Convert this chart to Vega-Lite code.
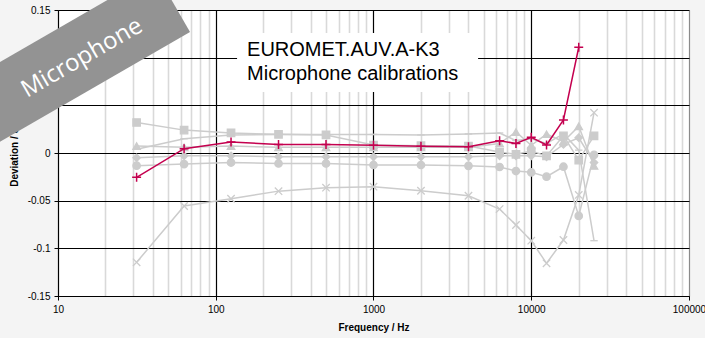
{
  "$schema": "https://vega.github.io/schema/vega-lite/v6.json",
  "width": 631,
  "height": 286,
  "autosize": "none",
  "padding": {"left": 58, "top": 10, "right": 16, "bottom": 42},
  "background": "#f4f4f4",
  "config": {
    "view": {"fill": "#ffffff", "stroke": null},
    "font": "Liberation Sans",
    "axis": {"labelFont": "Liberation Sans", "titleFont": "Liberation Sans", "labelFontSize": 10, "titleFontSize": 10, "labelColor": "#000000", "titleColor": "#000000", "domainColor": "#000000", "tickColor": "#000000", "tickSize": 4, "titleFontWeight": "bold"}
  },
  "datasets": {
    "series": [
      {"series": "Lab 1", "freq": 31.5, "dev": -0.0255},
      {"series": "Lab 1", "freq": 63, "dev": 0.0045},
      {"series": "Lab 1", "freq": 125, "dev": 0.0115},
      {"series": "Lab 1", "freq": 250, "dev": 0.009},
      {"series": "Lab 1", "freq": 500, "dev": 0.009},
      {"series": "Lab 1", "freq": 1000, "dev": 0.0081},
      {"series": "Lab 1", "freq": 2000, "dev": 0.007},
      {"series": "Lab 1", "freq": 4000, "dev": 0.0066},
      {"series": "Lab 1", "freq": 6300, "dev": 0.0129},
      {"series": "Lab 1", "freq": 8000, "dev": 0.010},
      {"series": "Lab 1", "freq": 10000, "dev": 0.0165},
      {"series": "Lab 1", "freq": 12500, "dev": 0.0084},
      {"series": "Lab 1", "freq": 16000, "dev": 0.0346},
      {"series": "Lab 1", "freq": 20000, "dev": 0.1109},

      {"series": "Lab 2", "freq": 31.5, "dev": 0.032},
      {"series": "Lab 2", "freq": 63, "dev": 0.024},
      {"series": "Lab 2", "freq": 125, "dev": 0.021},
      {"series": "Lab 2", "freq": 250, "dev": 0.0196},
      {"series": "Lab 2", "freq": 500, "dev": 0.0189},
      {"series": "Lab 2", "freq": 1000, "dev": 0.0084},
      {"series": "Lab 2", "freq": 2000, "dev": 0.0077},
      {"series": "Lab 2", "freq": 4000, "dev": 0.0073},
      {"series": "Lab 2", "freq": 6300, "dev": 0.001},
      {"series": "Lab 2", "freq": 8000, "dev": -0.0014},
      {"series": "Lab 2", "freq": 10000, "dev": 0.002},
      {"series": "Lab 2", "freq": 12500, "dev": -0.003},
      {"series": "Lab 2", "freq": 16000, "dev": 0.018},
      {"series": "Lab 2", "freq": 20000, "dev": -0.0075},
      {"series": "Lab 2", "freq": 25000, "dev": 0.018},

      {"series": "Lab 3", "freq": 31.5, "dev": 0.0073},
      {"series": "Lab 3", "freq": 63, "dev": 0.006},
      {"series": "Lab 3", "freq": 125, "dev": 0.0073},
      {"series": "Lab 3", "freq": 250, "dev": 0.006},
      {"series": "Lab 3", "freq": 500, "dev": 0.006},
      {"series": "Lab 3", "freq": 1000, "dev": 0.006},
      {"series": "Lab 3", "freq": 2000, "dev": 0.006},
      {"series": "Lab 3", "freq": 4000, "dev": 0.006},
      {"series": "Lab 3", "freq": 6300, "dev": 0.01},
      {"series": "Lab 3", "freq": 8000, "dev": 0.022},
      {"series": "Lab 3", "freq": 10000, "dev": 0.008},
      {"series": "Lab 3", "freq": 12500, "dev": 0.0197},
      {"series": "Lab 3", "freq": 16000, "dev": 0.012},
      {"series": "Lab 3", "freq": 20000, "dev": 0.028},
      {"series": "Lab 3", "freq": 25000, "dev": -0.0136},

      {"series": "Lab 4", "freq": 31.5, "dev": -0.005},
      {"series": "Lab 4", "freq": 63, "dev": -0.003},
      {"series": "Lab 4", "freq": 125, "dev": -0.003},
      {"series": "Lab 4", "freq": 250, "dev": -0.004},
      {"series": "Lab 4", "freq": 500, "dev": -0.004},
      {"series": "Lab 4", "freq": 1000, "dev": -0.004},
      {"series": "Lab 4", "freq": 2000, "dev": -0.004},
      {"series": "Lab 4", "freq": 4000, "dev": -0.004},
      {"series": "Lab 4", "freq": 6300, "dev": -0.003},
      {"series": "Lab 4", "freq": 8000, "dev": -0.003},
      {"series": "Lab 4", "freq": 10000, "dev": -0.003},
      {"series": "Lab 4", "freq": 12500, "dev": -0.004},
      {"series": "Lab 4", "freq": 16000, "dev": 0.009},
      {"series": "Lab 4", "freq": 20000, "dev": 0.016},
      {"series": "Lab 4", "freq": 25000, "dev": -0.01},

      {"series": "Lab 5", "freq": 31.5, "dev": -0.0133},
      {"series": "Lab 5", "freq": 63, "dev": -0.0116},
      {"series": "Lab 5", "freq": 125, "dev": -0.010},
      {"series": "Lab 5", "freq": 250, "dev": -0.011},
      {"series": "Lab 5", "freq": 500, "dev": -0.011},
      {"series": "Lab 5", "freq": 1000, "dev": -0.0126},
      {"series": "Lab 5", "freq": 2000, "dev": -0.0126},
      {"series": "Lab 5", "freq": 4000, "dev": -0.0135},
      {"series": "Lab 5", "freq": 6300, "dev": -0.0147},
      {"series": "Lab 5", "freq": 8000, "dev": -0.0189},
      {"series": "Lab 5", "freq": 10000, "dev": -0.0203},
      {"series": "Lab 5", "freq": 12500, "dev": -0.0248},
      {"series": "Lab 5", "freq": 16000, "dev": -0.0144},
      {"series": "Lab 5", "freq": 20000, "dev": -0.066},
      {"series": "Lab 5", "freq": 25000, "dev": -0.002},

      {"series": "Lab 6", "freq": 31.5, "dev": -0.1147},
      {"series": "Lab 6", "freq": 63, "dev": -0.0556},
      {"series": "Lab 6", "freq": 125, "dev": -0.048},
      {"series": "Lab 6", "freq": 250, "dev": -0.040},
      {"series": "Lab 6", "freq": 500, "dev": -0.0364},
      {"series": "Lab 6", "freq": 1000, "dev": -0.0353},
      {"series": "Lab 6", "freq": 2000, "dev": -0.0396},
      {"series": "Lab 6", "freq": 4000, "dev": -0.0448},
      {"series": "Lab 6", "freq": 6300, "dev": -0.0588},
      {"series": "Lab 6", "freq": 8000, "dev": -0.0755},
      {"series": "Lab 6", "freq": 10000, "dev": -0.092},
      {"series": "Lab 6", "freq": 12500, "dev": -0.1157},
      {"series": "Lab 6", "freq": 16000, "dev": -0.0913},
      {"series": "Lab 6", "freq": 20000, "dev": -0.044},
      {"series": "Lab 6", "freq": 25000, "dev": 0.0423},

      {"series": "Lab 7", "freq": 31.5, "dev": 0.004},
      {"series": "Lab 7", "freq": 63, "dev": 0.015},
      {"series": "Lab 7", "freq": 125, "dev": 0.019},
      {"series": "Lab 7", "freq": 250, "dev": 0.0195},
      {"series": "Lab 7", "freq": 500, "dev": 0.0195},
      {"series": "Lab 7", "freq": 1000, "dev": 0.0195},
      {"series": "Lab 7", "freq": 2000, "dev": 0.019},
      {"series": "Lab 7", "freq": 4000, "dev": 0.02},
      {"series": "Lab 7", "freq": 6300, "dev": 0.021},
      {"series": "Lab 7", "freq": 8000, "dev": 0.013},
      {"series": "Lab 7", "freq": 10000, "dev": 0.015},
      {"series": "Lab 7", "freq": 12500, "dev": 0.01},
      {"series": "Lab 7", "freq": 16000, "dev": 0.02},
      {"series": "Lab 7", "freq": 20000, "dev": 0.003},
      {"series": "Lab 7", "freq": 25000, "dev": -0.092}
    ],
    "box": [{"freq": 136.5, "dev": 0.1259, "freq2": 4603, "dev2": 0.064}],
    "titles": [
      {"label": "EUROMET.AUV.A-K3", "freq": 158, "dev": 0.1017},
      {"label": "Microphone calibrations", "freq": 158, "dev": 0.0766}
    ],
    "banner": [{"freq": 1.785, "dev": 0.0172, "freq2": 53.4, "dev2": 0.1583}],
    "bannerText": [{"label": "Microphone", "freq": 14.2, "dev": 0.0996}]
  },
  "layer": [
    {
      "data": {"name": "box"},
      "mark": {"type": "rect", "fill": "#ffffff", "stroke": null},
      "encoding": {
        "x": {"field": "freq", "type": "quantitative",
          "scale": {"type": "log", "domain": [10, 100000], "nice": false},
          "axis": {
            "title": "Frequency / Hz",
            "values": [10,20,30,40,50,60,70,80,90,100,200,300,400,500,600,700,800,900,1000,2000,3000,4000,5000,6000,7000,8000,9000,10000,20000,30000,40000,50000,60000,70000,80000,90000,100000],
            "format": "d",
            "labelExpr": "(datum.value===10||datum.value===100||datum.value===1000||datum.value===10000||datum.value===100000)?datum.label:''",
            "labelOverlap": false,
            "labelFlush": false,
            "labelPadding": 4,
            "titlePadding": 8,
            "grid": true,
            "gridColor": {"condition": [{"test": "datum.value===100000", "value": "#8a8a8a"}, {"test": "datum.value===10||datum.value===100||datum.value===1000||datum.value===10000", "value": "#000000"}], "value": "#d9d9d9"},
            "gridWidth": {"condition": {"test": "datum.value===10||datum.value===100||datum.value===1000||datum.value===10000||datum.value===100000", "value": 1.2}, "value": 1.6},
            "tickOpacity": {"condition": {"test": "datum.value===10||datum.value===100||datum.value===1000||datum.value===10000||datum.value===100000", "value": 1}, "value": 0}
          }
        },
        "x2": {"field": "freq2"},
        "y": {"field": "dev", "type": "quantitative",
          "scale": {"domain": [-0.15, 0.15], "nice": false, "zero": false},
          "axis": {
            "title": "Deviation / dB",
            "values": [-0.15, -0.1, -0.05, 0, 0.05, 0.1, 0.15],
            "labelExpr": "'' + datum.value",
            "grid": true,
            "gridColor": "#000000",
            "gridWidth": 1.2,
            "labelPadding": 4,
            "titlePadding": 8
          }
        },
        "y2": {"field": "dev2"}
      }
    },
    {
      "data": {"name": "titles"},
      "mark": {"type": "text", "align": "left", "baseline": "alphabetic", "font": "Liberation Sans", "fontSize": 20, "color": "#000000"},
      "encoding": {
        "x": {"field": "freq", "type": "quantitative"},
        "y": {"field": "dev", "type": "quantitative"},
        "text": {"field": "label"}
      }
    },
    {
      "data": {"name": "series"},
      "transform": [{"filter": "datum.series !== 'Lab 1'"}],
      "mark": {"type": "line", "strokeWidth": 1.5, "color": "#cccccc"},
      "encoding": {
        "x": {"field": "freq", "type": "quantitative"},
        "y": {"field": "dev", "type": "quantitative"},
        "detail": {"field": "series"}
      }
    },
    {
      "data": {"name": "series"},
      "transform": [{"filter": "datum.series !== 'Lab 1'"}],
      "mark": {"type": "point", "filled": true, "fill": "#cccccc", "stroke": "#cccccc", "strokeWidth": 1.3, "opacity": 1, "size": 55},
      "encoding": {
        "x": {"field": "freq", "type": "quantitative"},
        "y": {"field": "dev", "type": "quantitative"},
        "shape": {"field": "series", "type": "nominal", "legend": null,
          "scale": {"domain": ["Lab 1", "Lab 2", "Lab 3", "Lab 4", "Lab 5", "Lab 6", "Lab 7"],
            "range": ["M-1,0L1,0M0,-1L0,1", "square", "triangle-up", "diamond", "circle", "M-1,-1L1,1M-1,1L1,-1", "M-1,0L1,0"]}}
      }
    },
    {
      "data": {"name": "series"},
      "transform": [{"filter": "datum.series === 'Lab 1'"}],
      "mark": {"type": "line", "strokeWidth": 1.5, "color": "#c4004f"},
      "encoding": {
        "x": {"field": "freq", "type": "quantitative"},
        "y": {"field": "dev", "type": "quantitative"}
      }
    },
    {
      "data": {"name": "series"},
      "transform": [{"filter": "datum.series === 'Lab 1'"}],
      "mark": {"type": "point", "filled": false, "stroke": "#c4004f", "strokeWidth": 1.5, "opacity": 1, "size": 80},
      "encoding": {
        "x": {"field": "freq", "type": "quantitative"},
        "y": {"field": "dev", "type": "quantitative"},
        "shape": {"field": "series", "type": "nominal", "legend": null}
      }
    },
    {
      "data": {"name": "banner"},
      "mark": {"type": "rule", "color": "#939393", "strokeWidth": 69, "strokeCap": "butt"},
      "encoding": {
        "x": {"field": "freq", "type": "quantitative"},
        "x2": {"field": "freq2"},
        "y": {"field": "dev", "type": "quantitative"},
        "y2": {"field": "dev2"}
      }
    },
    {
      "data": {"name": "bannerText"},
      "mark": {"type": "text", "align": "center", "baseline": "middle", "angle": -30, "font": "Open Sans", "fontSize": 24, "color": "#ffffff"},
      "encoding": {
        "x": {"field": "freq", "type": "quantitative"},
        "y": {"field": "dev", "type": "quantitative"},
        "text": {"field": "label"}
      }
    }
  ]
}
